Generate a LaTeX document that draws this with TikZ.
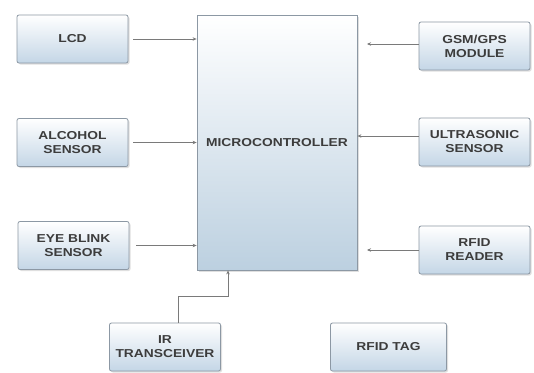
\documentclass[tikz,border=0pt]{standalone}
\usepackage{fontspec}
\setmainfont{Liberation Sans}[FakeStretch=1.2]
\usetikzlibrary{shadows,arrows.meta}
\definecolor{txt}{HTML}{3C3C3C}
\definecolor{bordc}{HTML}{8C98A4}
\definecolor{boxb}{HTML}{C4D6E6}
\definecolor{mcub}{HTML}{BCD0E0}
\definecolor{linec}{HTML}{7A7A7A}
\begin{document}
\begin{tikzpicture}[x=1pt,y=-1pt,
  blk/.style={draw=bordc, line width=0.8pt, rounded corners=2pt, top color=white, bottom color=boxb,
    minimum width=111pt, minimum height=48pt, inner sep=1pt, align=center,
    font=\fontsize{11.5}{14}\selectfont\bfseries, text=txt,
    drop shadow={shadow xshift=1.5pt, shadow yshift=-1.5pt, opacity=0.25}},
  mcu/.style={draw=bordc, line width=0.8pt, top color=white, bottom color=mcub,
    minimum width=160pt, minimum height=255pt, inner sep=1pt,
    font=\fontsize{11.5}{14}\selectfont\bfseries, text=txt,
    drop shadow={shadow xshift=1.5pt, shadow yshift=-1.5pt, opacity=0.25}},
  conn/.style={draw=linec, line width=1pt, -{Stealth[length=4pt,width=3.5pt]}}]
\useasboundingbox (0,0) rectangle (534,372);
\fill[white] (0,0) rectangle (534,372);
\node[mcu] (mcu) at (277,142.5) {MICROCONTROLLER};
\node[blk] (lcd) at (72.5,39) {LCD};
\node[blk] (alc) at (72.5,142.5) {ALCOHOL\\SENSOR};
\node[blk] (eye) at (73.5,245.5) {EYE BLINK\\SENSOR};
\node[blk] (gsm) at (474.5,46) {GSM/GPS\\MODULE};
\node[blk] (ult) at (474.5,142) {ULTRASONIC\\SENSOR};
\node[blk] (rfr) at (474.5,250) {RFID\\READER};
\node[blk] (ir) at (165,347) {IR\\TRANSCEIVER};
\node[blk, minimum width=116pt] (tag) at (388.5,347) {RFID TAG};
\coordinate (gsmend) at (367,44);
\coordinate (rfrend) at (367,250);
\coordinate (irbend1) at (178,296);
\coordinate (irbend2) at (228,296);
\draw[conn, shorten <=5pt] (lcd.east) -- (lcd.east -| mcu.west);
\draw[conn, shorten <=5pt] (alc.east) -- (alc.east -| mcu.west);
\draw[conn, shorten <=7pt] (eye.east) -- (eye.east -| mcu.west);
\draw[conn] (gsm.west |- gsmend) -- (gsmend);
\draw[conn] (ult.west |- 0,136) -- (mcu.east |- 0,136);
\draw[conn] (rfr.west) -- (rfrend);
\draw[conn] (ir.north -| irbend1) -- (irbend1) -- (irbend2) -- (irbend2 |- mcu.south);
\end{tikzpicture}
\end{document}
